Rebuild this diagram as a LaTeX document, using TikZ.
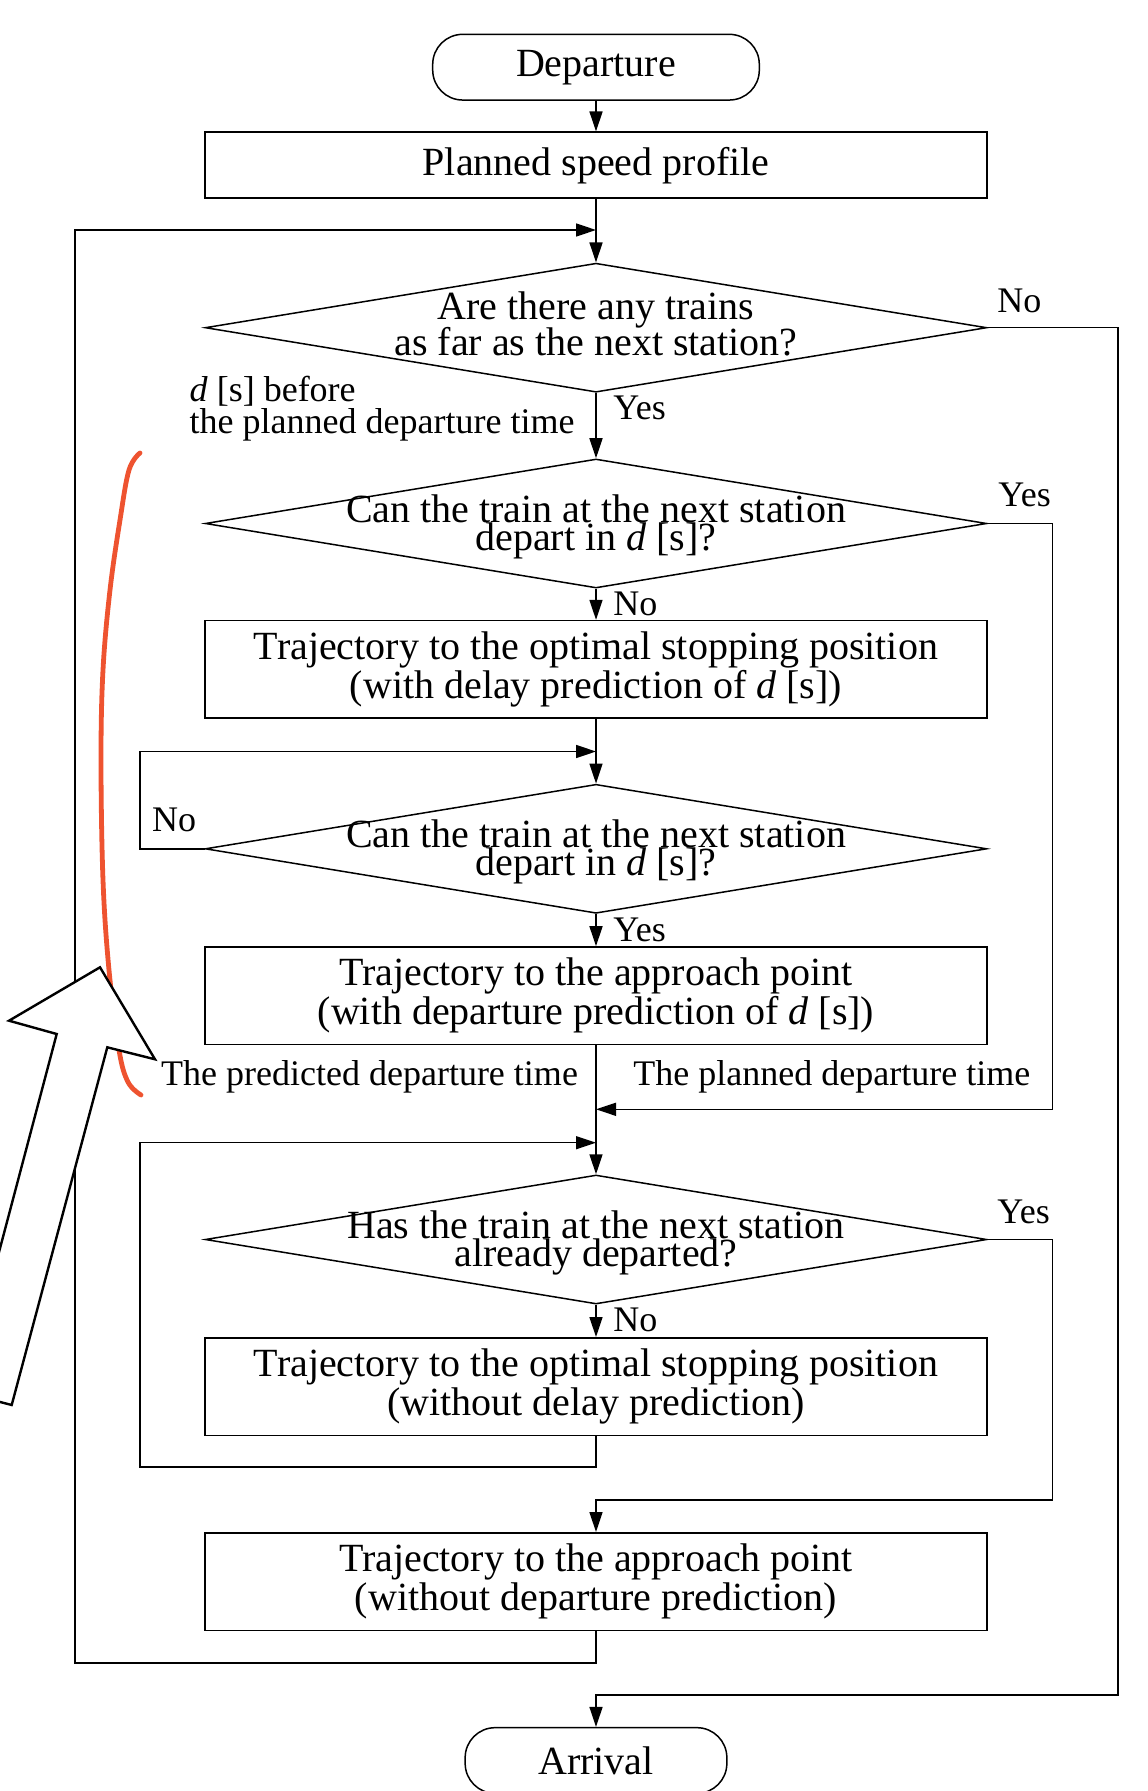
\documentclass[tikz,border=0pt]{standalone}
\usepackage{fontspec}
\setmainfont{Liberation Serif}
\usetikzlibrary{arrows.meta,shapes.geometric,calc}
\definecolor{redline}{RGB}{238,83,48}
\begin{document}
\begin{tikzpicture}[x=0.5pt,y=-0.5pt,
  every node/.style={font=\fontsize{20}{17.75}\selectfont},
  line/.style={line width=0.75pt},
  arr/.style={line width=0.75pt,-{Triangle[length=10pt,width=6.5pt]}},
  proc/.style={draw,line width=0.75pt,rectangle,minimum width=391pt,minimum height=48.75pt,inner sep=0pt,align=center},
  term/.style={draw,line width=0.75pt,rectangle,rounded corners=15pt,minimum height=32.85pt,inner sep=0pt},
  decision/.style={draw,line width=0.75pt,diamond,minimum width=390.75pt,minimum height=64.5pt,inner sep=0pt},
  dtxt/.style={inner sep=0pt,anchor=base},
  lbl/.style={inner sep=0pt,anchor=base west,font=\fontsize{18}{20}\selectfont},
]
\useasboundingbox (0,0) rectangle (1147,1791);
\clip (0,0) rectangle (1147,1791);

% nodes
\node[term,minimum width=163.3pt] (dep) at (596,67.2) {Departure};
\node[proc,minimum height=33pt] (p1) at (596,165.2) {Planned speed profile};

\node[decision] (d1) at (596,327.7) {};
\node[dtxt] (d1a) at (596,319.3) {Are there any trains};
\node[dtxt] (d1b) at (596,355.7) {as far as the next station?};

\node[decision] (d2) at (596,523.5) {};
\node[dtxt] (d2a) at (596,522.5) {Can the train at the next station};
\node[dtxt] (d2b) at (596,550.5) {depart in \textit{d} [s]?};

\node[proc] (p2) at (596,669.3) {Trajectory to the optimal stopping position\\(with delay prediction of \textit{d} [s])};

\node[decision] (d3) at (596,848.8) {};
\node[dtxt] (d3a) at (596,847.8) {Can the train at the next station};
\node[dtxt] (d3b) at (596,875.8) {depart in \textit{d} [s]?};

\node[proc] (p3) at (596,995.7) {Trajectory to the approach point\\(with departure prediction of \textit{d} [s])};

\node[decision] (d4) at (596,1239.5) {};
\node[dtxt] (d4a) at (596,1238.5) {Has the train at the next station};
\node[dtxt] (d4b) at (596,1266.5) {already departed?};

\node[proc] (p4) at (596,1386.5) {Trajectory to the optimal stopping position\\(without delay prediction)};
\node[proc] (p5) at (596,1581.5) {Trajectory to the approach point\\(without departure prediction)};

\node[term,minimum width=130.85pt] (arv) at (596,1760.5) {Arrival};

% junction / corner coordinates
\coordinate (j1) at (596,230);
\coordinate (L1) at (75,1663);
\coordinate (R1) at (1118,1695);
\coordinate (R2) at (1052.7,1109.3);
\coordinate (j2) at (596,1109.3);
\coordinate (L3) at (140,751.5);
\coordinate (j3) at (596,751.5);
\coordinate (L4) at (140,1467);
\coordinate (j4) at (596,1142.7);
\coordinate (R4) at (1052.7,1500);

% connectors
\draw[arr] (dep.south) -- (p1.north);
\draw[arr] (p1.south) -- (d1.north);
\draw[arr] (d1.east) -| (R1) -| (arv.north);
\draw[arr] (d1.south) -- (d2.north);
\draw[arr] (d2.east) -| (R2) -- (j2);
\draw[arr] (d2.south) -- (p2.north);
\draw[arr] (p2.south) -- (d3.north);
\draw[arr] (d3.west) -| (L3) -- (j3);
\draw[arr] (d3.south) -- (p3.north);
\draw[arr] (p3.south) -- (d4.north);
\draw[arr] (d4.south) -- (p4.north);
\draw[arr] (p4.south) |- (L4) |- (j4);
\draw[arr] (d4.east) -| (R4) -| (p5.north);
\draw[arr] (p5.south) |- (L1) |- (j1);

% labels
\node[lbl] (n1) at (997,313) {No};
\node[lbl] (y1) at (613,420) {Yes};
\node[lbl] (b1) at (189.3,401.7) {\textit{d} [s] before};
\node[lbl] (b2) at (189.3,433.3) {the planned departure time};
\node[lbl] (y2) at (998,506) {Yes};
\node[lbl] (n2) at (613,615) {No};
\node[lbl] (n3) at (151.7,831) {No};
\node[lbl] (y3) at (613,941) {Yes};
\node[lbl,anchor=base east] (t1) at (578.3,1085) {The predicted departure time};
\node[lbl] (t2) at (633,1085) {The planned departure time};
\node[lbl] (y4) at (997,1223) {Yes};
\node[lbl] (n4) at (613,1331) {No};

% red bracket
\draw[redline,line width=2.4pt,line cap=round] plot[smooth,tension=0.6] coordinates
  {(140,453) (129,470) (120,520) (110,590) (103,670) (101,760) (103,880) (109,970) (119,1050) (128,1082) (141,1095)};

% big hollow arrow
\draw[line width=1.2pt,fill=white,line join=miter]
  (100,967.3) -- (155,1059.3) -- (107.3,1047.3) -- (11.7,1405) -- (-38,1392) -- (56.7,1034) -- (9,1020.7) -- cycle;
\end{tikzpicture}
\end{document}
